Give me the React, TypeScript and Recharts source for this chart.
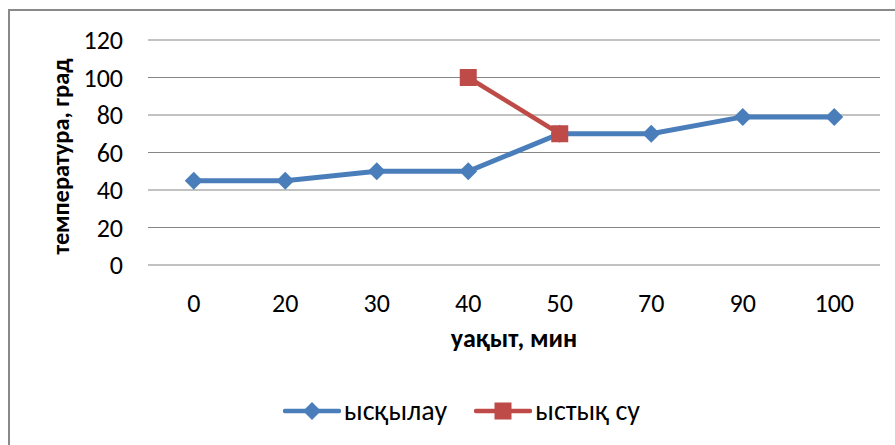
import React from 'react';
import { LineChart, Line, XAxis, YAxis, CartesianGrid, Legend } from 'recharts';

const categories = ['0', '20', '30', '40', '50', '70', '90', '100'];
const rubbingValues: (number | null)[] = [45, 45, 50, 50, 70, 70, 79, 79];
const hotWaterValues: (number | null)[] = [null, null, null, 100, 70, null, null, null];
const yTicks = [0, 20, 40, 60, 80, 100, 120];
const seriesNames = ['ысқылау', 'ыстық су'];
const xTitle = 'уақыт, мин';
const yTitle = 'температура, град';

const BLUE = '#4A7EBB';
const RED = '#BE4B48';
const FONT = 'Carlito, Lato, sans-serif';

const data = categories.map((c, i) => ({ t: c, a: rubbingValues[i], b: hotWaterValues[i] }));

const Diamond = (props: any) => {
  const { cx, cy } = props;
  if (cx == null || cy == null || props.value == null) return <g />;
  const r = 9;
  return <path d={`M${cx},${cy - r}L${cx + r},${cy}L${cx},${cy + r}L${cx - r},${cy}Z`} fill={BLUE} />;
};

const Square = (props: any) => {
  const { cx, cy } = props;
  if (cx == null || cy == null || props.value == null) return <g />;
  const s = 8.5;
  return <rect x={cx - s} y={cy - s} width={2 * s} height={2 * s} fill={RED} />;
};

const LegendContent = () => (
  <div style={{ display: 'flex', justifyContent: 'center', alignItems: 'center', fontFamily: FONT, fontSize: 28, color: '#000', lineHeight: '26px', paddingLeft: 28 }}>
    <svg width={58} height={24} style={{ marginRight: 3 }}>
      <line x1={2} y1={12} x2={56} y2={12} stroke={BLUE} strokeWidth={4.5} strokeLinecap="round" />
      <path d="M29,3L38,12L29,21L20,12Z" fill={BLUE} />
    </svg>
    <span style={{ marginRight: 27 }}>{seriesNames[0]}</span>
    <svg width={58} height={24} style={{ marginRight: 3 }}>
      <line x1={2} y1={12} x2={56} y2={12} stroke={RED} strokeWidth={4.5} strokeLinecap="round" />
      <rect x={20.5} y={3.5} width={17} height={17} fill={RED} />
    </svg>
    <span>{seriesNames[1]}</span>
  </div>
);

const XTitle = (props: any) => {
  const vb = props.viewBox || {};
  return (
    <text x={vb.x + vb.width / 2} y={347} textAnchor="middle" fontFamily={FONT} fontWeight="bold" fontSize={26} fill="#000">
      {xTitle}
    </text>
  );
};

const YTitle = (props: any) => {
  const vb = props.viewBox || {};
  const cx = 69;
  const cy = vb.y + vb.height / 2 + 4;
  return (
    <text x={cx} y={cy} transform={`rotate(-90, ${cx}, ${cy})`} textAnchor="middle" fontFamily={FONT} fontWeight="bold" fontSize={24.5} fill="#000">
      {yTitle}
    </text>
  );
};

export default function App() {
  return (
    <div style={{ position: 'fixed', left: 0, top: 0, width: 895, height: 445, overflow: 'hidden', background: '#fff' }}>
      <div style={{ position: 'absolute', left: 8, top: 9, width: 1000, height: 1000, border: '2px solid #898989', boxSizing: 'border-box' }} />
      <div style={{ position: 'absolute', left: 0, top: 0 }}>
        <LineChart width={895} height={445} data={data} margin={{ top: 40, right: 15, bottom: 150, left: 0 }}>
          <CartesianGrid horizontal vertical={false} stroke="#868686" strokeWidth={1.2} />
          <XAxis
            dataKey="t"
            height={30}
            axisLine={false}
            tickLine={false}
            tickSize={0}
            tickMargin={29}
            interval={0}
            padding={{ left: 45.75, right: 45.75 }}
            tick={{ fontFamily: FONT, fontSize: 26, fill: '#000' }}
            label={<XTitle />}
          />
          <YAxis
            width={148}
            domain={[0, 120]}
            ticks={yTicks}
            axisLine={false}
            tickLine={false}
            tickSize={0}
            tickMargin={25}
            tick={{ fontFamily: FONT, fontSize: 26, fill: '#000' }}
            label={<YTitle />}
          />
          <Legend
            layout="horizontal"
            verticalAlign="middle"
            align="center"
            content={<LegendContent />}
            wrapperStyle={{ top: 398, left: 0, width: 895 }}
          />
          <Line type="linear" dataKey="a" name={seriesNames[0]} stroke={BLUE} strokeWidth={5} dot={<Diamond />} activeDot={false} isAnimationActive={false} />
          <Line type="linear" dataKey="b" name={seriesNames[1]} stroke={RED} strokeWidth={4.5} dot={<Square />} activeDot={false} isAnimationActive={false} connectNulls={false} />
        </LineChart>
      </div>
    </div>
  );
}
